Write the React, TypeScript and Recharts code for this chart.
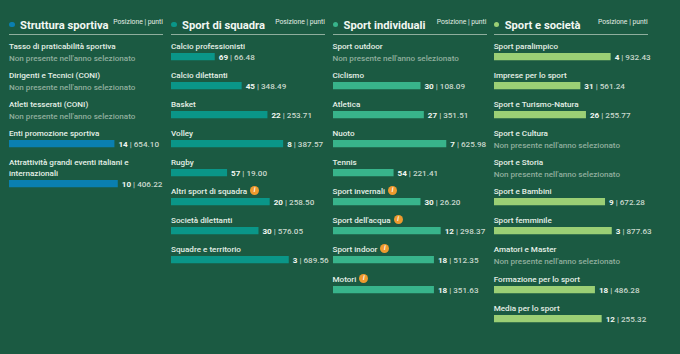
import { BarChart, Bar, XAxis, YAxis, LabelList } from "recharts";

const strutturaLabels = [
  "Tasso di praticabilità sportiva",
  "Dirigenti e Tecnici (CONI)",
  "Atleti tesserati (CONI)",
  "Enti promozione sportiva",
  "Attrattività grandi eventi italiani e internazionali",
];
const strutturaRanks = [null, null, null, 14, 10];
const strutturaPoints = [null, null, null, 654.1, 406.22];
const strutturaBars = [null, null, null, 94, 97];
const strutturaInfo: string[] = [];

const squadraLabels = [
  "Calcio professionisti",
  "Calcio dilettanti",
  "Basket",
  "Volley",
  "Rugby",
  "Altri sport di squadra",
  "Società dilettanti",
  "Squadre e territorio",
];
const squadraRanks = [69, 45, 22, 8, 57, 20, 30, 3];
const squadraPoints = [66.48, 348.49, 253.71, 387.57, 19.0, 258.5, 576.05, 689.56];
const squadraBars = [39, 63, 86, 100, 50, 88, 78, 105];
const squadraInfo = ["Altri sport di squadra"];

const individualiLabels = [
  "Sport outdoor",
  "Ciclismo",
  "Atletica",
  "Nuoto",
  "Tennis",
  "Sport invernali",
  "Sport dell'acqua",
  "Sport indoor",
  "Motori",
];
const individualiRanks = [null, 30, 27, 7, 54, 30, 12, 18, 18];
const individualiPoints = [null, 108.09, 351.51, 625.98, 221.41, 26.2, 298.37, 512.35, 351.63];
const individualiBars = [null, 78, 81, 101, 54, 78, 96, 90, 90];
const individualiInfo = ["Sport invernali", "Sport dell'acqua", "Sport indoor", "Motori"];

const societaLabels = [
  "Sport paralimpico",
  "Imprese per lo sport",
  "Sport e Turismo-Natura",
  "Sport e Cultura",
  "Sport e Storia",
  "Sport e Bambini",
  "Sport femminile",
  "Amatori e Master",
  "Formazione per lo sport",
  "Media per lo sport",
];
const societaRanks = [4, 31, 26, null, null, 9, 3, null, 18, 12];
const societaPoints = [932.43, 561.24, 255.77, null, null, 672.28, 877.63, null, 486.28, 255.32];
const societaBars = [104, 77, 82, null, null, 99, 105, null, 90, 96];
const societaInfo: string[] = [];

const FONT = "Roboto, sans-serif";
const BG = "#1b5a42";

interface RowProps {
  label: string;
  rank: number | null;
  points: number | null;
  bar: number | null;
  color: string;
  info: boolean;
}

function Row({ label, rank, points, bar, color, info }: RowProps) {
  return (
    <div style={{ marginBottom: 8.14 }}>
      <div style={{ fontSize: 8.1, fontWeight: 500, lineHeight: "11px", color: "#e4efe6" }}>
        {label}
        {info && (
          <span
            style={{
              display: "inline-block",
              width: 9,
              height: 9,
              marginLeft: 3,
              borderRadius: "50%",
              background: "#ee9a2e",
              color: "#fff",
              fontSize: 7,
              fontStyle: "italic",
              lineHeight: "9px",
              textAlign: "center",
              verticalAlign: 2,
            }}
          >
            i
          </span>
        )}
      </div>
      {bar === null ? (
        <div
          style={{
            position: "relative",
            top: 1,
            fontSize: 8.1,
            fontWeight: 500,
            lineHeight: "10px",
            color: "#8fae9d",
          }}
        >
          Non presente nell'anno selezionato
        </div>
      ) : (
        <BarChart
          width={170}
          height={10}
          data={[{ name: label, value: bar }]}
          layout="vertical"
          margin={{ top: 1, right: 50, bottom: 1, left: 0 }}
        >
          <XAxis type="number" hide domain={[0, 107]} />
          <YAxis type="category" hide dataKey="name" />
          <Bar dataKey="value" fill={color} barSize={8} isAnimationActive={false}>
            <LabelList
              dataKey="value"
              content={(p: any) => (
                <text
                  x={Number(p.x) + Number(p.width) + 4}
                  y={Number(p.y) + Number(p.height) / 2 + 3}
                  fontSize={8.1}
                  fontWeight={500}
                  fontFamily={FONT}
                  fill="#c9d8cd"
                >
                  <tspan fontWeight={700} fill="#f2f7f2">
                    {rank}
                  </tspan>
                  <tspan> | </tspan>
                  <tspan>{points?.toFixed(2)}</tspan>
                </text>
              )}
            />
          </Bar>
        </BarChart>
      )}
    </div>
  );
}

interface PanelProps {
  title: string;
  left: number;
  color: string;
  labels: string[];
  ranks: (number | null)[];
  points: (number | null)[];
  bars: (number | null)[];
  info: string[];
}

function Panel({ title, left, color, labels, ranks, points, bars, info }: PanelProps) {
  return (
    <div style={{ position: "absolute", left, top: 0, width: 154, fontFamily: FONT }}>
      <div
        style={{
          position: "relative",
          height: 34,
          marginTop: 0,
          borderBottom: "1px solid #8fae9d",
        }}
      >
        <span
          style={{
            position: "absolute",
            left: 0,
            top: 21.5,
            width: 5.5,
            height: 5.5,
            borderRadius: "50%",
            background: color,
          }}
        />
        <span
          style={{
            position: "absolute",
            left: 11,
            top: 18.5,
            fontSize: 11.2,
            lineHeight: "14px",
            fontWeight: 700,
            color: "#f2f7f2",
            whiteSpace: "nowrap",
          }}
        >
          {title}
        </span>
        <span
          style={{
            position: "absolute",
            right: 0,
            top: 18,
            fontSize: 6.8,
            lineHeight: "9px",
            color: "#e4efe6",
            whiteSpace: "nowrap",
          }}
        >
          Posizione | punti
        </span>
      </div>
      <div style={{ marginTop: 5.5 }}>
        {labels.map((label, i) => (
          <Row
            key={label}
            label={label}
            rank={ranks[i]}
            points={points[i]}
            bar={bars[i]}
            color={color}
            info={info.includes(label)}
          />
        ))}
      </div>
    </div>
  );
}

export default function App() {
  return (
    <div
      style={{
        position: "absolute",
        left: 0,
        top: 0,
        width: 680,
        height: 354,
        overflow: "hidden",
        background: BG,
      }}
    >
      <Panel
        title="Struttura sportiva"
        left={9}
        color="#0a7fb0"
        labels={strutturaLabels}
        ranks={strutturaRanks}
        points={strutturaPoints}
        bars={strutturaBars}
        info={strutturaInfo}
      />
      <Panel
        title="Sport di squadra"
        left={171}
        color="#0a9688"
        labels={squadraLabels}
        ranks={squadraRanks}
        points={squadraPoints}
        bars={squadraBars}
        info={squadraInfo}
      />
      <Panel
        title="Sport individuali"
        left={332.5}
        color="#38b48b"
        labels={individualiLabels}
        ranks={individualiRanks}
        points={individualiPoints}
        bars={individualiBars}
        info={individualiInfo}
      />
      <Panel
        title="Sport e società"
        left={493.7}
        color="#9bcf75"
        labels={societaLabels}
        ranks={societaRanks}
        points={societaPoints}
        bars={societaBars}
        info={societaInfo}
      />
    </div>
  );
}
